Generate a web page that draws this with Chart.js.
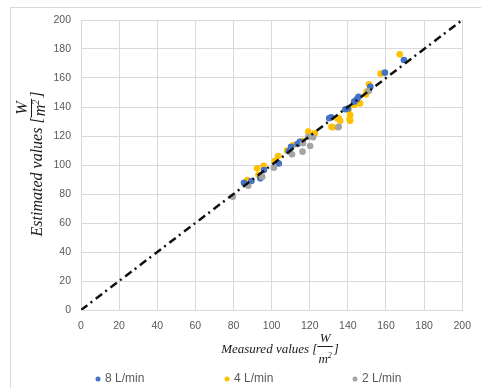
<!DOCTYPE html>
<html>
<head>
<meta charset="utf-8">
<script src="https://cdn.jsdelivr.net/npm/chart.js@4.4.1/dist/chart.umd.min.js"></script>
<style>
html, body { margin: 0; padding: 0; background: #fff; }
#wrap { width: 481px; height: 388px; }
</style>
</head>
<body>
<div id="wrap"><canvas id="scatterChart" width="481" height="388"></canvas></div>
<script>
// series: [measured, estimated] in W/m2
const seriesLabels = ['8 L/min', '4 L/min', '2 L/min'];
const seriesColors = ['#4472C4', '#FFC000', '#A5A5A5'];

const flow8 = [
    [85.5, 87.8], [89.4, 89], [94.1, 90.8], [96, 96.5], [103.8, 101], [109, 109.5],
    [110.2, 112.6], [113.6, 114.5], [114.8, 116], [130.2, 132.2], [131.2, 132.9],
    [138.7, 138.4], [140, 139], [143.3, 143.7], [144.7, 145.3], [145.6, 147],
    [151.8, 154], [159.4, 163.7], [169.4, 172.4]
];
const flow4 = [
    [87.2, 89.7], [92.4, 97.7], [95.8, 99.5], [93.1, 93.1], [101.5, 102.8], [103.4, 106.2],
    [108.1, 109.9], [111.4, 113.8], [116.2, 116.5], [119.2, 123], [122.6, 121.8],
    [131.4, 126.4], [132.1, 126], [134.4, 132], [136, 130.5], [135.2, 132.2],
    [140.4, 137.9], [141.2, 134.5], [141.2, 130.6], [140.9, 131.5], [143.3, 141.4],
    [145.2, 143], [146.4, 142.5], [149.5, 148.7], [149.9, 150.6], [151.1, 155.6],
    [157.2, 163], [167.2, 176.3]
];
const flow2 = [
    [79.6, 78.1], [87.7, 85.7], [95.1, 91.9], [101.2, 98.1], [110.7, 107.4], [116.2, 109.2],
    [116.5, 115], [120.2, 113.1], [119.3, 119.5], [121.7, 119.1], [134.9, 126],
    [135.2, 126.4], [150.9, 151]
];
// 1:1 reference line
const idealLine = [[0, 0], [200, 200]];

const axisMin = 0;
const axisMax = 200;
const axisStep = 20;

const toXY = arr => arr.map(p => ({ x: p[0], y: p[1] }));

// draws "text [W/m²]" with a stacked fraction
function drawFracTitle(ctx, cx, cy, angle, size, mainText, off) {
    ctx.save();
    ctx.translate(cx, cy);
    ctx.rotate(angle);
    ctx.fillStyle = '#1a1a1a';
    ctx.strokeStyle = '#1a1a1a';
    ctx.textBaseline = 'middle';
    const font = 'italic ' + size + 'px "Liberation Serif", serif';
    const smallFont = 'italic ' + Math.round(size * 0.65) + 'px "Liberation Serif", serif';
    ctx.font = font;
    const wMain = ctx.measureText(mainText + ' [').width;
    const wW = ctx.measureText('W').width;
    const wm = ctx.measureText('m').width;
    const wClose = ctx.measureText(']').width;
    ctx.font = smallFont;
    const w2 = ctx.measureText('2').width;
    const fracW = Math.max(wW, wm + w2) + 2;
    const total = wMain + fracW + wClose + 1;
    let x = -total / 2;
    ctx.font = font;
    ctx.textAlign = 'left';
    ctx.fillText(mainText + ' [', x, 0);
    x += wMain;
    ctx.textAlign = 'center';
    ctx.fillText('W', x + fracW / 2, off.w);
    ctx.lineWidth = 1;
    ctx.beginPath();
    ctx.moveTo(x, off.line + 0.5);
    ctx.lineTo(x + fracW, off.line + 0.5);
    ctx.stroke();
    ctx.textAlign = 'left';
    const mx = x + (fracW - wm - w2) / 2;
    ctx.fillText('m', mx, off.m);
    ctx.font = smallFont;
    ctx.fillText('2', mx + wm, off.m - size * 0.3);
    x += fracW + 1;
    ctx.font = font;
    ctx.fillText(']', x, 0);
    ctx.restore();
}

const decorPlugin = {
    id: 'decor',
    afterDraw(chart) {
        const ctx = chart.ctx;
        ctx.save();
        // outer frame
        ctx.strokeStyle = '#d9d9d9';
        ctx.lineWidth = 1;
        ctx.strokeRect(10.5, 7.5, 520, 420);
        ctx.restore();

        drawFracTitle(ctx, 280, 350, 0, 13, 'Measured values', { w: -11, line: -4, m: 10 });
        drawFracTitle(ctx, 38, 164, -Math.PI / 2, 16, 'Estimated values', { w: -15, line: -7, m: 3 });

        // legend
        const legendX = [98, 227, 355];
        const legendY = 379;
        ctx.save();
        ctx.font = '12px "Liberation Sans", sans-serif';
        ctx.textBaseline = 'middle';
        ctx.textAlign = 'left';
        seriesLabels.forEach((label, i) => {
            ctx.fillStyle = seriesColors[i];
            ctx.beginPath();
            ctx.arc(legendX[i], legendY, 2.5, 0, Math.PI * 2);
            ctx.fill();
            ctx.fillStyle = '#595959';
            ctx.fillText(label, legendX[i] + 7, legendY);
        });
        ctx.restore();
    }
};

const scatterChart = new Chart(document.getElementById('scatterChart'), {
    type: 'scatter',
    data: {
        datasets: [
            {
                type: 'line',
                label: 'ideal',
                data: toXY(idealLine),
                borderColor: '#111111',
                borderWidth: 2.5,
                borderDash: [8, 4, 2, 4.5],
                pointRadius: 0,
                fill: false
            },
            {
                label: seriesLabels[2],
                data: toXY(flow2),
                backgroundColor: seriesColors[2],
                borderWidth: 0,
                pointRadius: 3.3
            },
            {
                label: seriesLabels[0],
                data: toXY(flow8),
                backgroundColor: seriesColors[0],
                borderWidth: 0,
                pointRadius: 3.3
            },
            {
                label: seriesLabels[1],
                data: toXY(flow4),
                backgroundColor: seriesColors[1],
                borderWidth: 0,
                pointRadius: 3.3
            }
        ]
    },
    options: {
        responsive: false,
        animation: false,
        devicePixelRatio: 1,
        layout: {
            padding: { left: 0, right: 14, top: 20, bottom: 0 }
        },
        plugins: {
            legend: { display: false },
            tooltip: { enabled: false }
        },
        scales: {
            x: {
                type: 'linear',
                min: axisMin,
                max: axisMax,
                afterFit: scale => { scale.height = 78; },
                grid: { color: '#d9d9d9', drawTicks: false },
                border: { color: '#d9d9d9' },
                ticks: {
                    stepSize: axisStep,
                    padding: 10,
                    color: '#595959',
                    font: { family: '"Liberation Sans", sans-serif', size: 10.5 }
                }
            },
            y: {
                type: 'linear',
                min: axisMin,
                max: axisMax,
                afterFit: scale => { scale.width = 81; },
                grid: { color: '#d9d9d9', drawTicks: false },
                border: { color: '#d9d9d9' },
                ticks: {
                    stepSize: axisStep,
                    padding: 10,
                    color: '#595959',
                    font: { family: '"Liberation Sans", sans-serif', size: 10.5 }
                }
            }
        }
    },
    plugins: [decorPlugin]
});
</script>
</body>
</html>
